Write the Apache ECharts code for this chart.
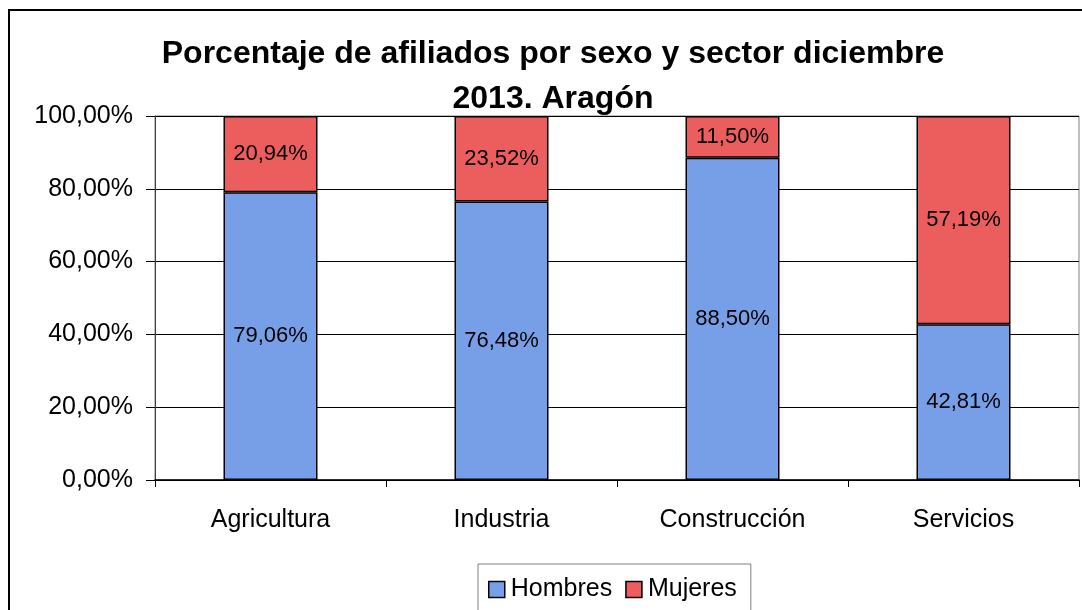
<!DOCTYPE html>
<html>
<head>
<meta charset="utf-8">
<script src="https://cdn.jsdelivr.net/npm/echarts@6/dist/echarts.min.js"></script>
<style>
  html, body { margin: 0; padding: 0; background: #fff; }
  #chart { width: 1082px; height: 610px; }
</style>
</head>
<body>
<div id="chart"></div>
<script>
const sectores = ['Agricultura', 'Industria', 'Construcción', 'Servicios'];
const hombres = [79.06, 76.48, 88.50, 42.81];
const mujeres = [20.94, 23.52, 11.50, 57.19];
const yTicks = [0, 20, 40, 60, 80, 100];

const fmt = v => v.toFixed(2).replace('.', ',') + '%';
const font = 'Arial, "Liberation Sans", sans-serif';

const chart = echarts.init(document.getElementById('chart'));

const labelStyle = {
  show: true,
  position: 'inside',
  color: '#000',
  fontFamily: font,
  fontSize: 22,
  formatter: p => fmt(p.value)
};

chart.setOption({
  animation: false,
  title: {
    text: 'Porcentaje de afiliados por sexo y sector diciembre\n2013. Aragón',
    left: 548,
    textAlign: 'center',
    top: 27,
    textStyle: {
      fontFamily: font,
      fontWeight: 'bold',
      fontSize: 32,
      lineHeight: 45,
      color: '#000'
    }
  },
  graphic: [{
    type: 'rect',
    shape: {x: 9, y: 10, width: 1200, height: 800},
    style: {fill: 'none', stroke: '#000', lineWidth: 2},
    silent: true
  }],
  legend: {
    top: 564,
    left: 478,
    itemWidth: 16,
    itemHeight: 16,
    itemGap: 13,
    padding: [13, 14, 20, 10],
    borderColor: '#808080',
    borderWidth: 1,
    icon: 'rect',
    itemStyle: {borderColor: '#000', borderWidth: 1.5},
    textStyle: {fontFamily: font, fontSize: 25, lineHeight: 20, color: '#000', padding: [0, 0, 0, 1]},
    data: ['Hombres', 'Mujeres']
  },
  grid: {
    left: 155,
    right: 3,
    top: 116,
    bottom: 130,
    show: true,
    borderColor: '#808080',
    borderWidth: 1
  },
  xAxis: {
    type: 'category',
    data: sectores,
    axisLine: {lineStyle: {color: '#000', width: 1.5}},
    axisTick: {show: true, length: 7, lineStyle: {color: '#000'}},
    axisLabel: {color: '#000', fontFamily: font, fontSize: 25, margin: 28}
  },
  yAxis: {
    type: 'value',
    min: yTicks[0],
    max: yTicks[yTicks.length - 1],
    interval: 20,
    axisLine: {show: true, lineStyle: {color: '#404040'}},
    axisTick: {show: true, length: 9, lineStyle: {color: '#000'}},
    axisLabel: {color: '#000', fontFamily: font, fontSize: 25, margin: 22, formatter: v => fmt(v)},
    splitLine: {lineStyle: {color: '#000', width: 1}}
  },
  series: [{
    name: 'Hombres',
    type: 'bar',
    stack: 'total',
    barWidth: 94,
    data: hombres,
    itemStyle: {color: '#779FE8', borderColor: '#000', borderWidth: 1.5},
    label: labelStyle
  }, {
    name: 'Mujeres',
    type: 'bar',
    stack: 'total',
    barWidth: 94,
    data: mujeres,
    itemStyle: {color: '#EC5D5D', borderColor: '#000', borderWidth: 1.5},
    label: labelStyle
  }]
});
</script>
</body>
</html>
